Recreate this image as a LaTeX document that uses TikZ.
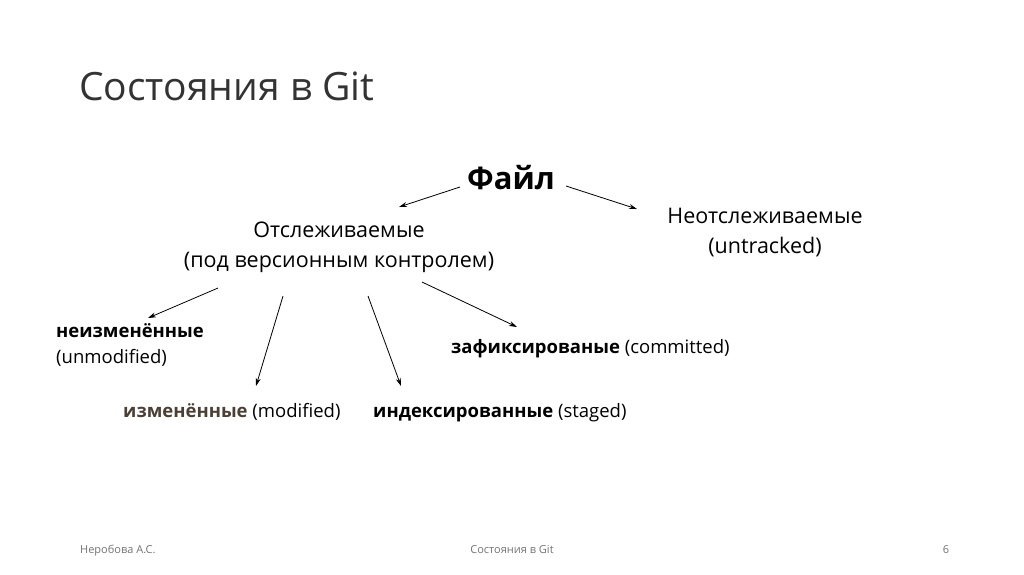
\documentclass[tikz,border=0pt]{standalone}
\usepackage{fontspec}
\setmainfont{Open Sans}
\usetikzlibrary{arrows.meta}
\begin{document}
\begin{tikzpicture}[x=1pt,y=-1pt,
  lbl/.style={inner sep=0pt,anchor=base,font=\fontsize{21.5}{30}\selectfont},
  sm/.style={inner sep=0pt,anchor=base west,font=\fontsize{18.5}{26}\selectfont},
  foot/.style={inner sep=0pt,anchor=base,text=black!55,font=\fontsize{11}{13}\selectfont},
  arr/.style={-{Stealth[length=8pt,width=5pt]},line width=0.8pt}]
\useasboundingbox (0,0) rectangle (1024,574);
\node[inner sep=0pt,anchor=base west,text=black!80,font=\fontsize{39}{44}\selectfont] (title) at (79,100) {Состояния в Git};
\node[inner sep=0pt,anchor=base,font=\bfseries\fontsize{31}{34}\selectfont] (file) at (511,189) {Файл};
\node[lbl] (tr) at (339,237) {Отслеживаемые};
\node[lbl] (tr2) at (339,267) {(под версионным контролем)};
\node[lbl] (un) at (765,223) {Неотслеживаемые};
\node[lbl] (un2) at (765,253) {(untracked)};
\node[sm] (unm) at (56,337) {\textbf{неизменённые}};
\node[sm] (unm2) at (56,363) {(unmodified)};
\node[sm] (mod) at (123,417) {\textbf{\textcolor[HTML]{4A4036}{изменённые}} (modified)};
\node[sm] (stg) at (373,417) {\textbf{индексированные} (staged)};
\node[sm] (com) at (451,353) {\textbf{зафиксированые} (committed)};
\coordinate (a1) at (460,187); \coordinate (b1) at (399,207);
\coordinate (a2) at (566,186); \coordinate (b2) at (637,209);
\draw[arr] (a1) -- (b1);
\draw[arr] (a2) -- (b2);
\coordinate (c1) at (218,288); \coordinate (d1) at (148,318);
\coordinate (c2) at (283,296); \coordinate (d2) at (256,386);
\coordinate (c3) at (368,296); \coordinate (d3) at (401,386);
\coordinate (c4) at (422,282); \coordinate (d4) at (517,327);
\draw[arr] (c1) -- (d1);
\draw[arr] (c2) -- (d2);
\draw[arr] (c3) -- (d3);
\draw[arr] (c4) -- (d4);
\node[foot,anchor=base west] (f1) at (80,553) {Неробова А.С.};
\node[foot] (f2) at (512,553) {Состояния в Git};
\node[foot] (f3) at (946,553) {6};
\end{tikzpicture}
\end{document}
